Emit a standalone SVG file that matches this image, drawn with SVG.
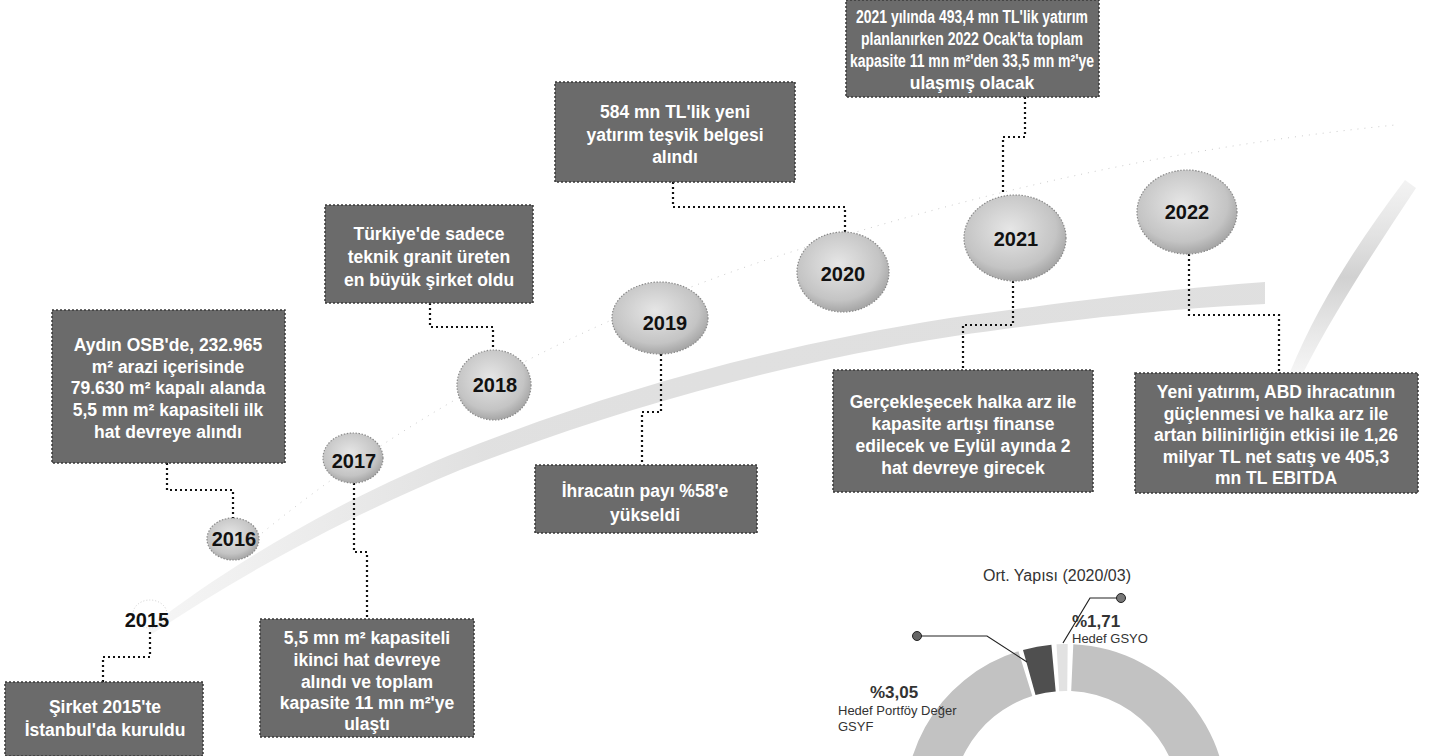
<svg xmlns="http://www.w3.org/2000/svg" width="1439" height="756" viewBox="0 0 1439 756">
<style>
.box{fill:#6b6b6b;stroke:#3a3a3a;stroke-width:1.5;stroke-dasharray:2 2}
.bt{font-family:"Liberation Sans",Arial,sans-serif;font-weight:bold;font-size:17.5px;fill:#ffffff;text-anchor:middle}
.yr{font-family:"Liberation Sans",Arial,sans-serif;font-weight:bold;font-size:20px;fill:#111;text-anchor:middle}
.bub{fill:url(#bg);stroke:#8a8a8a;stroke-width:1.2;stroke-dasharray:1.5 1.5}
.con{fill:none;stroke:#111;stroke-width:2.2;stroke-dasharray:2 3}
.lab{font-family:"Liberation Sans",Arial,sans-serif;fill:#333}
</style>
<defs>
<radialGradient id="bg" cx="0.45" cy="0.4" r="0.65">
<stop offset="0" stop-color="#e6e6e6"/>
<stop offset="0.7" stop-color="#c4c4c4"/>
<stop offset="1" stop-color="#9c9c9c"/>
</radialGradient>
<linearGradient id="sw" x1="0" y1="0" x2="1" y2="0">
<stop offset="0" stop-color="#d0d0d0" stop-opacity="0.2"/>
<stop offset="0.3" stop-color="#cccccc" stop-opacity="0.6"/>
<stop offset="1" stop-color="#d2d2d2" stop-opacity="0.7"/>
</linearGradient>
<linearGradient id="sw2" x1="0" y1="1" x2="0" y2="0">
<stop offset="0" stop-color="#cfcfcf" stop-opacity="0.2"/>
<stop offset="0.5" stop-color="#bdbdbd" stop-opacity="0.7"/>
<stop offset="1" stop-color="#d6d6d6" stop-opacity="0.3"/>
</linearGradient>
</defs>
<rect width="1439" height="756" fill="#ffffff"/>

<g id="background">
<path d="M148 628 C 230 565, 330 505, 450 455 C 600 395, 760 348, 950 318 C 1080 300, 1180 288, 1265 282 L 1265 304 C 1180 308, 1080 318, 955 336 C 770 365, 610 412, 460 470 C 340 520, 240 575, 152 634 Z" fill="url(#sw)"/>
<path d="M1290 372 C 1320 300, 1360 240, 1405 180 L 1416 188 C 1375 250, 1335 310, 1302 375 Z" fill="url(#sw2)"/>
<path d="M230 560 C 380 430, 560 330, 760 262 C 950 200, 1150 150, 1395 125" fill="none" stroke="#cccccc" stroke-width="1" stroke-dasharray="1 6"/>
</g>

<g id="connectors">
<path class="con" d="M150 632 V657 H103 V682"/>
<path class="con" d="M167 463 V490 H233 V519"/>
<path class="con" d="M354 483 V552 H367 V619"/>
<path class="con" d="M430 303 V327 H493 V350"/>
<path class="con" d="M661 354 V412 H642 V465"/>
<path class="con" d="M673 182 V207 H845 V232"/>
<path class="con" d="M1025 97 V137 H1003 V195"/>
<path class="con" d="M1013 281 V325 H963 V370"/>
<path class="con" d="M1189 254 V315 H1279 V373"/>
</g>

<g id="y2015">
<ellipse cx="150" cy="614" rx="17" ry="14" fill="none" stroke="#cfcfcf" stroke-width="1" stroke-dasharray="1 2"/>
<text class="yr" x="147" y="627">2015</text>
</g>
<g id="y2016">
<ellipse class="bub" cx="233" cy="539" rx="26" ry="21"/>
<text class="yr" x="234" y="546">2016</text>
</g>
<g id="y2017">
<ellipse class="bub" cx="353" cy="458" rx="30" ry="25"/>
<text class="yr" x="354" y="468">2017</text>
</g>
<g id="y2018">
<ellipse class="bub" cx="494" cy="385" rx="37" ry="35"/>
<text class="yr" x="495" y="392">2018</text>
</g>
<g id="y2019">
<ellipse class="bub" cx="660" cy="318" rx="48" ry="36"/>
<text class="yr" x="665" y="330">2019</text>
</g>
<g id="y2020">
<ellipse class="bub" cx="843" cy="272" rx="46" ry="40"/>
<text class="yr" x="843" y="281">2020</text>
</g>
<g id="y2021">
<ellipse class="bub" cx="1015" cy="238" rx="51" ry="43"/>
<text class="yr" x="1016" y="246">2021</text>
</g>
<g id="y2022">
<ellipse class="bub" cx="1187" cy="212" rx="50" ry="42"/>
<text class="yr" x="1187" y="219">2022</text>
</g>

<g id="box2015">
<rect class="box" x="5" y="682" width="198" height="74"/>
<text class="bt" x="105" y="713">Şirket 2015'te</text>
<text class="bt" x="105" y="736">İstanbul'da kuruldu</text>
</g>
<g id="box2016">
<rect class="box" x="52" y="310" width="233" height="153"/>
<text class="bt" x="168" y="351">Aydın OSB'de, 232.965</text>
<text class="bt" x="168" y="373">m² arazi içerisinde</text>
<text class="bt" x="168" y="394">79.630 m² kapalı alanda</text>
<text class="bt" x="168" y="416">5,5 mn m² kapasiteli ilk</text>
<text class="bt" x="168" y="438">hat devreye alındı</text>
</g>
<g id="box2017">
<rect class="box" x="260" y="619" width="214" height="118"/>
<text class="bt" x="367" y="644">5,5 mn m² kapasiteli</text>
<text class="bt" x="367" y="666">ikinci hat devreye</text>
<text class="bt" x="367" y="688">alındı ve toplam</text>
<text class="bt" x="367" y="709">kapasite 11 mn m²'ye</text>
<text class="bt" x="367" y="730">ulaştı</text>
</g>
<g id="box2018">
<rect class="box" x="325" y="205" width="208" height="98"/>
<text class="bt" x="429" y="240">Türkiye'de sadece</text>
<text class="bt" x="429" y="263">teknik granit üreten</text>
<text class="bt" x="429" y="286">en büyük şirket oldu</text>
</g>
<g id="box2019">
<rect class="box" x="535" y="465" width="222" height="68"/>
<text class="bt" x="645" y="497">İhracatın payı %58'e</text>
<text class="bt" x="645" y="521">yükseldi</text>
</g>
<g id="box2020">
<rect class="box" x="555" y="82" width="240" height="100"/>
<text class="bt" x="675" y="118">584 mn TL'lik yeni</text>
<text class="bt" x="675" y="141">yatırım teşvik belgesi</text>
<text class="bt" x="675" y="163">alındı</text>
</g>
<g id="box2021top">
<rect class="box" x="846" y="0" width="253" height="97"/>
<text class="bt" x="972" y="23" font-size="16.5" textLength="232" lengthAdjust="spacingAndGlyphs">2021 yılında 493,4 mn TL'lik yatırım</text>
<text class="bt" x="972" y="45" font-size="16.5" textLength="222" lengthAdjust="spacingAndGlyphs">planlanırken 2022 Ocak'ta toplam</text>
<text class="bt" x="972" y="67" font-size="16.5" textLength="244" lengthAdjust="spacingAndGlyphs">kapasite 11 mn m²'den 33,5 mn m²'ye</text>
<text class="bt" x="972" y="89" font-size="16.5">ulaşmış olacak</text>
</g>
<g id="box2021bottom">
<rect class="box" x="833" y="370" width="260" height="122"/>
<text class="bt" x="963" y="408">Gerçekleşecek halka arz ile</text>
<text class="bt" x="963" y="430">kapasite artışı finanse</text>
<text class="bt" x="963" y="452">edilecek ve Eylül ayında 2</text>
<text class="bt" x="963" y="474">hat devreye girecek</text>
</g>
<g id="box2022">
<rect class="box" x="1135" y="373" width="283" height="120"/>
<text class="bt" x="1276" y="398">Yeni yatırım, ABD ihracatının</text>
<text class="bt" x="1276" y="420">güçlenmesi ve halka arz ile</text>
<text class="bt" x="1276" y="441">artan bilinirliğin etkisi ile 1,26</text>
<text class="bt" x="1276" y="463">milyar TL net satış ve 405,3</text>
<text class="bt" x="1276" y="484">mn TL EBITDA</text>
</g>

<g id="donut">
<text class="lab" x="1057" y="581" font-size="16" text-anchor="middle">Ort. Yapısı (2020/03)</text>
<path d="M910.5 846.7 A161 161 0 0 1 1018.4 651.2 L1032.3 696.1 A114 114 0 0 0 955.9 834.5 Z" fill="#c2c2c2"/>
<path d="M1023 649.9 A161 161 0 0 1 1051.4 644.7 L1055.7 691.5 A114 114 0 0 0 1035.5 695.1 Z" fill="#4f4f4f"/>
<path d="M1056.5 644.3 A161 161 0 0 1 1067.7 644 L1067.2 691 A114 114 0 0 0 1059.2 691.2 Z" fill="#e2e2e2"/>
<path d="M1073.3 644.2 A161 161 0 0 1 1221.5 846.7 L1176.1 834.5 A114 114 0 0 0 1071.2 691.1 Z" fill="#c2c2c2"/>
<polyline points="917,636 987,636 1027,662" fill="none" stroke="#222" stroke-width="1.2"/>
<circle cx="917" cy="636" r="4.5" fill="#666" stroke="#222" stroke-width="1"/>
<polyline points="1121,598 1090,598 1063,643" fill="none" stroke="#222" stroke-width="1.2"/>
<circle cx="1121" cy="598" r="4.5" fill="#777" stroke="#222" stroke-width="1"/>
<text class="lab" x="870" y="698" font-size="17" font-weight="bold">%3,05</text>
<text class="lab" x="838" y="715" font-size="13">Hedef Portföy Değer</text>
<text class="lab" x="838" y="731" font-size="13">GSYF</text>
<text class="lab" x="1072" y="627" font-size="17" font-weight="bold">%1,71</text>
<text class="lab" x="1072" y="643" font-size="13">Hedef GSYO</text>
</g>
</svg>
